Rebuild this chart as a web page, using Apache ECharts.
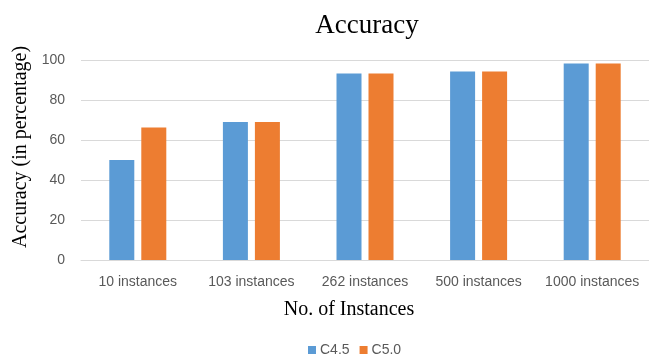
<!DOCTYPE html>
<html>
<head>
<meta charset="utf-8">
<script src="https://cdn.jsdelivr.net/npm/echarts@6/dist/echarts.min.js"></script>
<style>
html,body{margin:0;padding:0;background:#fff;}
#AccuracyChart{width:649px;height:356px;}
</style>
</head>
<body>
<div id="AccuracyChart"></div>
<script>
// categories and values
var categories = ['10 instances', '103 instances', '262 instances', '500 instances', '1000 instances'];
var c45 = [50, 69, 93.3, 94.2, 98.2];
var c50 = [66.3, 69, 93.3, 94.2, 98.2];
var yTicks = [0, 20, 40, 60, 80, 100];

var myChart = echarts.init(document.getElementById('AccuracyChart'));
var serif = '"Liberation Serif", "DejaVu Serif", serif';
var sans = '"Liberation Sans", Arial, sans-serif';

option = {
    animation: false,
    title: {
        text: 'Accuracy',
        left: 362,
        top: 7,
        textAlign: 'center',
        textStyle: { fontFamily: serif, fontSize: 27, fontWeight: 'normal', color: '#000' }
    },
    legend: {
        top: 338,
        left: 303,
        itemWidth: 8,
        itemHeight: 8,
        itemGap: 10,
        icon: 'rect',
        textStyle: { fontFamily: sans, fontSize: 14, color: '#595959', padding: [0, 0, 0, -1] },
        data: ['C4.5', 'C5.0']
    },
    grid: { left: 81, right: 0, top: 60, bottom: 96 },
    xAxis: {
        type: 'category',
        data: categories,
        name: 'No. of Instances',
        nameLocation: 'middle',
        nameGap: 40,
        nameTextStyle: { fontFamily: serif, fontSize: 20, color: '#000', padding: [0, 32, 0, 0] },
        axisLine: { lineStyle: { color: '#d9d9d9', width: 1 } },
        axisTick: { show: false },
        axisLabel: { fontFamily: sans, fontSize: 14, color: '#595959', margin: 15, interval: 0 }
    },
    yAxis: {
        type: 'value',
        min: yTicks[0],
        max: yTicks[yTicks.length - 1],
        interval: 20,
        name: 'Accuracy (in percentage)',
        nameLocation: 'middle',
        nameGap: 50,
        nameTextStyle: { fontFamily: serif, fontSize: 20, color: '#000', padding: [0, 0, 0, 26] },
        axisLine: { show: false },
        axisTick: { show: false },
        splitLine: { lineStyle: { color: '#d9d9d9', width: 1 } },
        axisLabel: { fontFamily: sans, fontSize: 14, color: '#595959', margin: 16 }
    },
    series: [
        {
            name: 'C4.5',
            type: 'bar',
            data: c45,
            barWidth: 25,
            barGap: '28%',
            itemStyle: { color: '#5b9bd5' }
        },
        {
            name: 'C5.0',
            type: 'bar',
            data: c50,
            barWidth: 25,
            itemStyle: { color: '#ed7d31' }
        }
    ]
};
myChart.setOption(option);
</script>
</body>
</html>
